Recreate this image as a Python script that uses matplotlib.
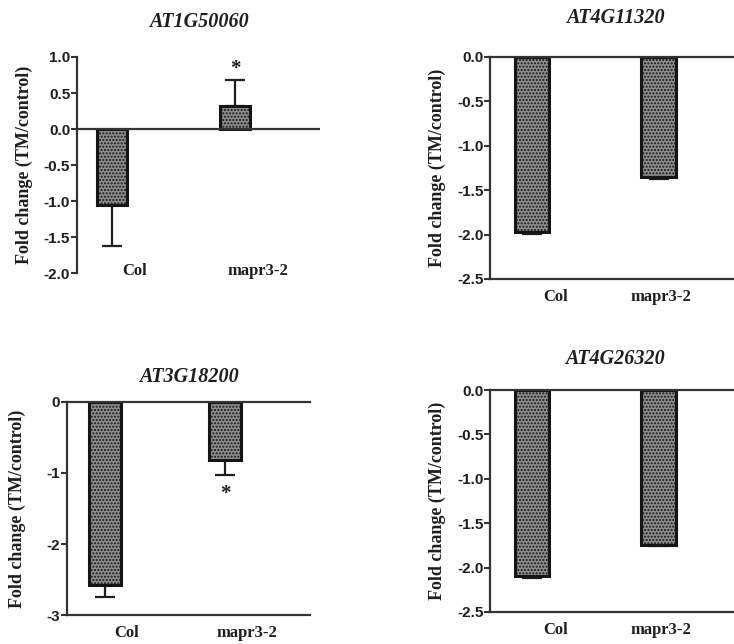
import matplotlib.pyplot as plt
import numpy as np

# data
genes = ['AT1G50060', 'AT4G11320', 'AT3G18200', 'AT4G26320']
categories = ['Col', 'mapr3-2']
fold_change = [[-1.05, 0.32], [-1.97, -1.35], [-2.58, -0.82], [-2.10, -1.74]]
errors = [[0.57, 0.36], [0.02, 0.02], [0.17, 0.21], [0.02, 0.02]]
star_pos = [[None, 0.84], [None, None], [None, -1.29], [None, None]]
ylims = [(-2.0, 1.0), (-2.5, 0.0), (-3.0, 0.0), (-2.5, 0.0)]
yticks = [np.arange(-2.0, 1.01, 0.5), np.arange(-2.5, 0.01, 0.5),
          np.arange(-3, 0.5, 1), np.arange(-2.5, 0.01, 0.5)]

# layout (figure fractions), x-limits, bar width, label positions
axes_rect = [[0.105, 0.576, 0.331, 0.3355],
             [0.668, 0.5668, 0.34, 0.3447],
             [0.0913, 0.045, 0.331, 0.3308],
             [0.668, 0.0497, 0.34, 0.3447]]
xlims = [(-0.285, 1.691), (-0.327, 1.641), (-0.317, 1.708), (-0.327, 1.641)]
bar_w = [0.25, 0.27, 0.27, 0.27]
label_x = [[0.187, 1.187], [0.19, 1.02], [0.18, 1.18], [0.19, 1.02]]
title_off = [35, 39, 25, 31]
ylab_x = [-0.181, -0.176, -0.169, -0.176]

fig = plt.figure(figsize=(7.34, 6.44), dpi=100)
serif = 'Liberation Serif'
sans = 'Liberation Sans'
axc = '#333333'
txt = '#1e1e1e'

for i in range(4):
    ax = fig.add_axes(axes_rect[i])
    vals = np.array(fold_change[i])
    err = np.array(errors[i])
    lower = np.where(vals < 0, err, 0)
    upper = np.where(vals > 0, err, 0)
    x = np.arange(len(categories))
    ax.bar(x, vals, width=bar_w[i], color='#8e8e8e', edgecolor='#151515',
           hatch='.....', linewidth=2.2, zorder=2)
    ax.errorbar(x, vals, yerr=[lower, upper], fmt='none', ecolor='#1e1e1e',
                elinewidth=1.6, capsize=7, capthick=1.6, zorder=1)
    for j, s in enumerate(star_pos[i]):
        if s is not None:
            ax.text(x[j], s, '*', ha='center', va='center', fontsize=15,
                    fontweight='bold', family=serif, color=txt)
    ax.set_xlim(*xlims[i])
    ax.set_ylim(*ylims[i])
    ax.set_yticks(yticks[i])
    if i == 2:
        ax.set_yticklabels(['%d' % v for v in yticks[i]])
    else:
        ax.set_yticklabels(['%.1f' % v for v in yticks[i]])
    for lab in ax.get_yticklabels():
        lab.set_fontfamily(sans)
        lab.set_fontweight('bold')
        lab.set_fontsize(11)
        lab.set_color(txt)
    ax.tick_params(axis='y', length=4, width=1.5, color=axc, pad=1)
    ax.set_xticks(label_x[i])
    ax.set_xticklabels(categories, family=serif, fontweight='bold', fontsize=12,
                       color=txt)
    ax.tick_params(axis='x', length=0, pad=(-7 if i == 0 else 7))

    for sp in ax.spines.values():
        sp.set_color(axc)
        sp.set_linewidth(1.6)
    ax.spines['right'].set_visible(False)
    if i == 0:
        ax.spines['top'].set_visible(False)
        ax.spines['bottom'].set_visible(False)
        ax.axhline(0, color=axc, linewidth=1.6, zorder=3)
    ax.patch.set_alpha(0)

    h_px = axes_rect[i][3] * 644
    ax.text(0.5, 1 + title_off[i] / h_px, genes[i], transform=ax.transAxes,
            ha='center', va='center', family=serif, fontstyle='italic',
            fontweight='bold', fontsize=14.5, color=txt)
    ax.set_ylabel('Fold change (TM/control)', family=serif, fontweight='bold',
                  fontsize=13, color=txt)
    ax.yaxis.set_label_coords(ylab_x[i], 0.5)

fig.savefig('out.png', dpi=100)
